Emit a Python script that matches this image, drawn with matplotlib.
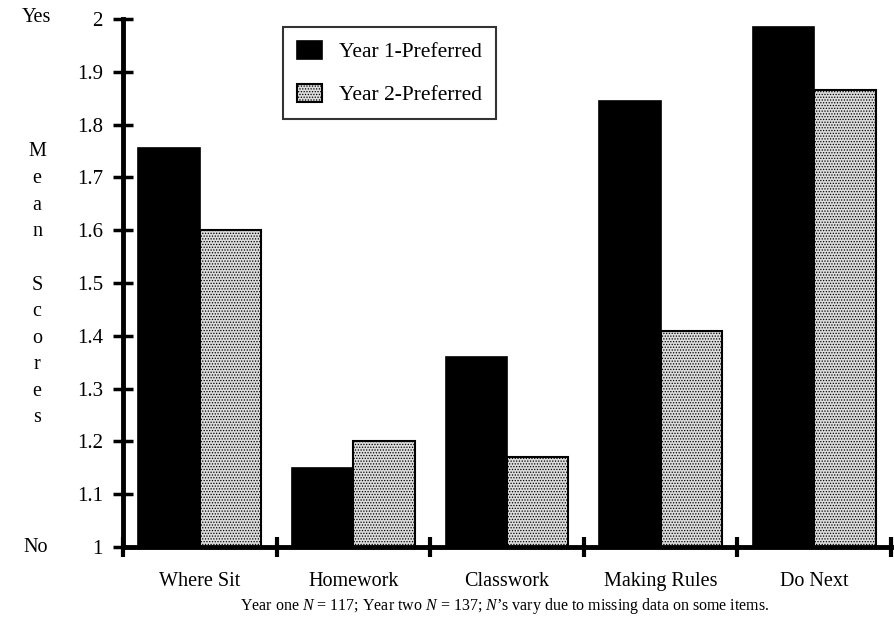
import matplotlib
matplotlib.use("Agg")
import matplotlib.pyplot as plt
import numpy as np

categories = ["Where Sit", "Homework", "Classwork", "Making Rules", "Do Next"]
year1 = [1.755, 1.15, 1.36, 1.845, 1.985]
year2 = [1.60, 1.20, 1.17, 1.41, 1.865]
series_names = ["Year 1-Preferred", "Year 2-Preferred"]
yticks = [1, 1.1, 1.2, 1.3, 1.4, 1.5, 1.6, 1.7, 1.8, 1.9, 2]
ytick_labels = ["1", "1.1", "1.2", "1.3", "1.4", "1.5", "1.6", "1.7", "1.8", "1.9", "2"]
ylabel_letters = ["M", "e", "a", "n", "", "S", "c", "o", "r", "e", "s"]
footnote = "Year one $\\mathit{N}$ = 117; Year two $\\mathit{N}$ = 137; $\\mathit{N}$\u2019s vary due to missing data on some items."

plt.rcParams["font.family"] = ["Liberation Serif", "DejaVu Serif"]
plt.rcParams["mathtext.fontset"] = "custom"
plt.rcParams["mathtext.it"] = "Liberation Serif:italic"
plt.rcParams["mathtext.rm"] = "Liberation Serif"
plt.rcParams["hatch.linewidth"] = 0.6

fig = plt.figure(figsize=(8.95, 6.27), dpi=100)
W, H = 895, 627
ax = fig.add_axes([123 / W, 1 - 547 / H, (891 - 123) / W, (547 - 19) / H])

x = np.arange(len(categories))
bw = 0.4
ax.bar(x - bw / 2, np.array(year1) - 1, bw, bottom=1, color="black",
       edgecolor="black", linewidth=1.2, label=series_names[0])
ax.bar(x + bw / 2, np.array(year2) - 1, bw, bottom=1, facecolor="#dcdcdc",
       edgecolor="black", linewidth=1.5, hatch="......", label=series_names[1])

ax.set_xlim(-0.5, len(categories) - 0.5)
ax.set_ylim(1, 2)
ax.set_yticks(yticks)
ax.set_yticklabels(ytick_labels, fontsize=15)
ax.set_xticks(x)
ax.set_xticklabels(categories, fontsize=14.5)
ax.set_xticks(np.arange(len(categories) + 1) - 0.5, minor=True)
ax.tick_params(axis="x", which="major", length=0, pad=18)
ax.tick_params(axis="x", which="minor", direction="inout", length=15, width=3)
ax.tick_params(axis="y", which="major", direction="inout", length=15, width=2.5, pad=7)

for s in ["top", "right"]:
    ax.spines[s].set_visible(False)
for s in ["left", "bottom"]:
    ax.spines[s].set_linewidth(3.5)

# Yes / No and vertical letter label
fig.text(36 / W, 1 - 18 / H, "Yes", ha="center", va="center", fontsize=14.5)
fig.text(36 / W, 1 - 547 / H, "No", ha="center", va="center", fontsize=14.5)
for i, ch in enumerate(ylabel_letters):
    if ch:
        fig.text(37 / W, 1 - (152 + i * 26.6) / H, ch, ha="center", va="center", fontsize=14.5)

leg = ax.legend(loc="upper left", bbox_to_anchor=((283 - 123) / (891 - 123), 1 - (27 - 19) / (547 - 19)),
                fontsize=15.5, frameon=True, fancybox=False, edgecolor="black",
                handlelength=1.15, handleheight=0.9, handletextpad=0.8, borderpad=0.65,
                labelspacing=1.0, borderaxespad=0)
leg.get_frame().set_linewidth(1.5)

fig.text(505 / W, 1 - 606 / H, footnote, ha="center", va="center", fontsize=11.5)

fig.savefig("out.png", dpi=100)
